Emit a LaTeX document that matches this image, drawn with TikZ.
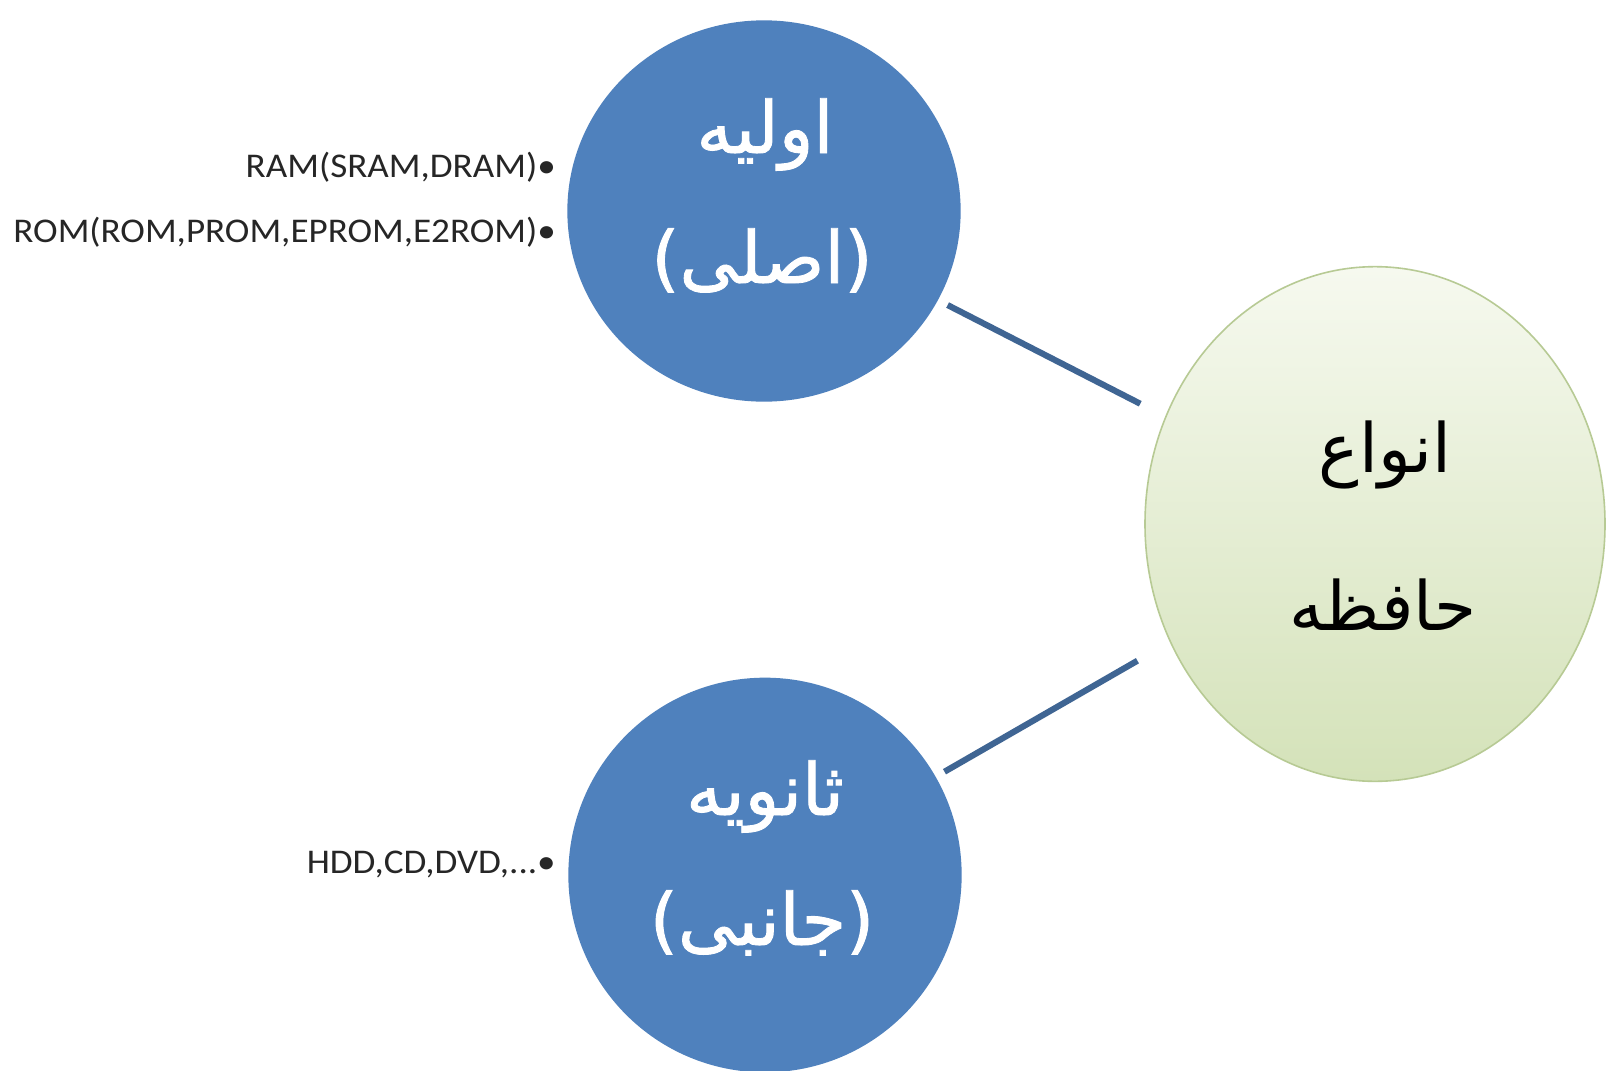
\documentclass[tikz,border=0pt]{standalone}
\usepackage{fontspec}
\usetikzlibrary{shapes.geometric}
\TeXXeTstate=1
\setmainfont{Carlito}
\newfontfamily\itemfont[FakeStretch=1.07]{Carlito}
\newfontfamily\arabicfont[Script=Arabic]{DejaVu Sans}
\newfontfamily\arabicheavy[Script=Arabic, FakeBold=1.2]{DejaVu Sans}

\definecolor{nodeblue}{HTML}{4F81BD}
\definecolor{linkblue}{HTML}{3F6593}
\definecolor{memtop}{HTML}{F6F9EF}
\definecolor{membot}{HTML}{D4E2B9}
\definecolor{memedge}{HTML}{B7CA94}
\definecolor{itemtext}{HTML}{262626}

\tikzset{
  kindnode/.style={ellipse, fill=nodeblue, draw=none, minimum width=295pt, minimum height=286pt, inner sep=0pt},
  memnode/.style={ellipse, draw=memedge, line width=1.2pt, top color=memtop, bottom color=membot,
    minimum width=345pt, minimum height=386pt, inner sep=0pt},
  link/.style={draw=linkblue, line width=4.6pt},
  kindlabel/.style={text=white, font=\arabicheavy\fontsize{54}{60}\selectfont, anchor=base, inner sep=0pt},
  memlabel/.style={text=black, font=\arabicfont\fontsize{51}{60}\selectfont, anchor=base, inner sep=0pt},
  itemlabel/.style={text=itemtext, font=\itemfont\fontsize{26}{30}\selectfont, anchor=base east, inner sep=0pt}
}

\begin{document}
\begin{tikzpicture}[x=0.75pt, y=-0.75pt]
  \useasboundingbox (0,0) rectangle (1614,1071);
  \fill[white] (0,0) rectangle (1614,1071);

  % the three shapes
  \node[kindnode] (primary) at (764,211) {};
  \node[kindnode, minimum height=296pt] (secondary) at (765,875) {};
  \node[memnode] (memory) at (1375,524) {};

  % connectors between the memory kinds and the centre
  \draw[link, shorten <=8pt, shorten >=21pt] (primary) -- (memory);
  \draw[link, shorten <=7.5pt, shorten >=28pt] (secondary) -- (memory);

  % labels inside the shapes
  \node[kindlabel] (primaryA) at (765,153) {\beginR اولیه\endR};
  \node[kindlabel] (primaryB) at (762,283) {\beginR (اصلی)\endR};
  \node[kindlabel] (secondaryA) at (765,815) {\beginR ثانویه\endR};
  \node[kindlabel] (secondaryB) at (762,945) {\beginR (جانبی)\endR};
  \node[memlabel] (memoryA) at (1385,472) {\beginR انواع\endR};
  \node[memlabel] (memoryB) at (1383,630) {\beginR حافظه\endR};

  % examples listed beside each kind
  \node[itemlabel] (ram) at (556,177) {RAM(SRAM,DRAM)•};
  \node[itemlabel] (rom) at (556,242) {ROM(ROM,PROM,EPROM,E2ROM)•};
  \node[itemlabel] (hdd) at (556,873) {HDD,CD,DVD,...•};
\end{tikzpicture}
\end{document}
